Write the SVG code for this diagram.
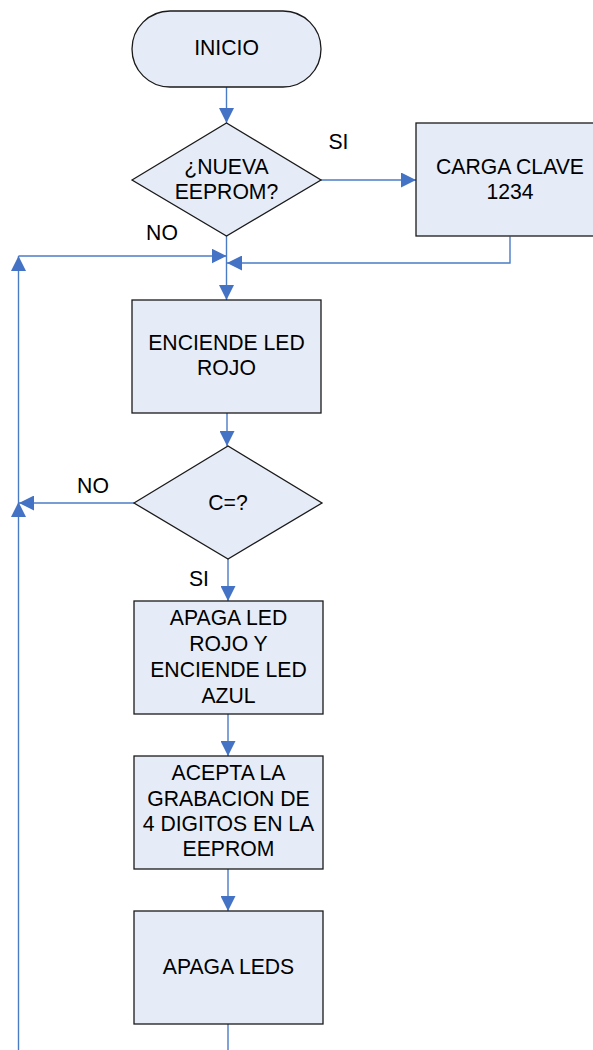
<svg xmlns="http://www.w3.org/2000/svg" width="593" height="1050" viewBox="0 0 593 1050">
<style>
.n{fill:#E6ECF7;stroke:#1a1a1a;stroke-width:1.3}
.t{font-family:"Liberation Sans",Arial,sans-serif;font-size:21.2px;fill:#000;text-anchor:middle}
.c{fill:none;stroke:#4A7CC6;stroke-width:1.4}
</style>
<defs>
<marker id="ah" markerUnits="userSpaceOnUse" markerWidth="15" markerHeight="15" refX="14" refY="7" orient="auto" viewBox="0 0 14 14">
<path d="M0,0 L14,7 L0,14 z" fill="#4472C4"/>
</marker>
</defs>
<rect width="593" height="1050" fill="#fff"/>
<g id="connectors">
<path class="c" d="M226.5,87 V123" marker-end="url(#ah)"/>
<path class="c" d="M321,180 H416" marker-end="url(#ah)"/>
<path class="c" d="M510,236.5 V263 H227" marker-end="url(#ah)"/>
<path class="c" d="M226.5,236 V300" marker-end="url(#ah)"/>
<path class="c" d="M18.5,256 H226.5" marker-end="url(#ah)"/>
<path class="c" d="M18.5,1050 V502" marker-end="url(#ah)"/>
<path class="c" d="M18.5,502 V256" marker-end="url(#ah)"/>
<path class="c" d="M227,413 V446" marker-end="url(#ah)"/>
<path class="c" d="M134,503 H19" marker-end="url(#ah)"/>
<path class="c" d="M228,559 V601" marker-end="url(#ah)"/>
<path class="c" d="M228,714 V756" marker-end="url(#ah)"/>
<path class="c" d="M228,869 V911" marker-end="url(#ah)"/>
<path class="c" d="M228,1024 V1050"/>
<text class="t" x="338.5" y="149">SI</text>
<text class="t" x="162" y="240">NO</text>
<text class="t" x="93" y="493">NO</text>
<text class="t" x="199" y="586">SI</text>
</g>
<g id="inicio">
<rect class="n" x="132" y="11" width="189" height="76" rx="38" ry="38"/>
<text class="t" x="226.5" y="55">INICIO</text>
</g>
<g id="nueva-eeprom">
<polygon class="n" points="132,180 226.5,123 321,180 226.5,236"/>
<text class="t" x="226.5" y="174">¿NUEVA</text>
<text class="t" x="226.5" y="199">EEPROM?</text>
</g>
<g id="carga-clave">
<rect class="n" x="416" y="123" width="188" height="113"/>
<text class="t" x="510" y="174">CARGA CLAVE</text>
<text class="t" x="510" y="199">1234</text>
</g>
<g id="enciende-rojo">
<rect class="n" x="132" y="300" width="189" height="113"/>
<text class="t" x="226.5" y="350">ENCIENDE LED</text>
<text class="t" x="226.5" y="375">ROJO</text>
</g>
<g id="c-igual">
<polygon class="n" points="134,503 228,446 322,503 228,559"/>
<text class="t" x="228" y="510">C=?</text>
</g>
<g id="apaga-rojo">
<rect class="n" x="134" y="601" width="189" height="113"/>
<text class="t" x="228.5" y="625">APAGA LED</text>
<text class="t" x="228.5" y="651">ROJO Y</text>
<text class="t" x="228.5" y="677">ENCIENDE LED</text>
<text class="t" x="228.5" y="703">AZUL</text>
</g>
<g id="acepta">
<rect class="n" x="134" y="756" width="189" height="113"/>
<text class="t" x="228.5" y="780">ACEPTA LA</text>
<text class="t" x="228.5" y="806">GRABACION DE</text>
<text class="t" x="228.5" y="831">4 DIGITOS EN LA</text>
<text class="t" x="228.5" y="856">EEPROM</text>
</g>
<g id="apaga-leds">
<rect class="n" x="134" y="911" width="189" height="113"/>
<text class="t" x="228.5" y="974">APAGA LEDS</text>
</g>
</svg>
